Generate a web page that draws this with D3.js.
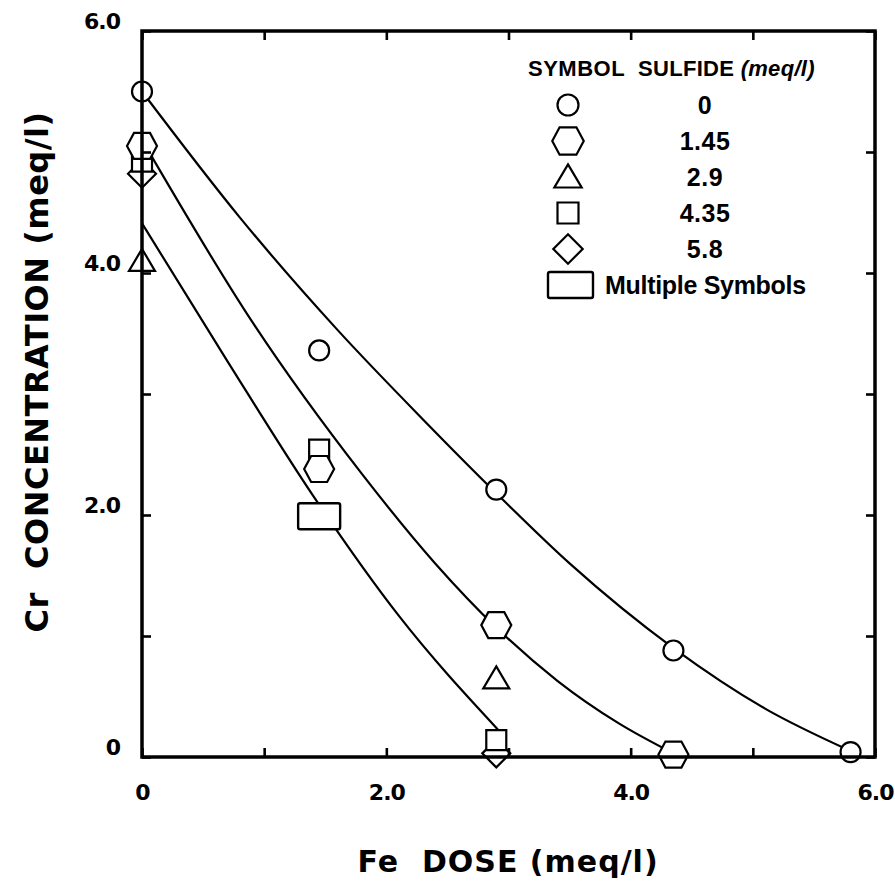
<!DOCTYPE html>
<html>

<head>
  <title>Cr concentration vs Fe dose</title>
  <script src="https://d3js.org/d3.v7.min.js"></script>
  <style>
    body {
      margin: 0;
      background: #ffffff;
    }

    .tick-label {
      font-family: "DejaVu Sans", sans-serif;
      font-weight: bold;
      font-size: 22px;
      letter-spacing: -1px;
      fill: #000;
    }

    .axis-title {
      font-family: "DejaVu Sans", sans-serif;
      font-weight: bold;
      fill: #000;
      white-space: pre;
    }

    .legend-text {
      font-family: "Liberation Sans", Arial, sans-serif;
      font-weight: bold;
      fill: #000;
      white-space: pre;
    }
  </style>
</head>

<body>
  <svg id="chart"></svg>

  <script>
    // Data: Fe dose (meq/l) vs Cr concentration (meq/l)
    const sulfideLabels = ["0", "1.45", "2.9", "4.35", "5.8"];
    const symbolTypes = ["circle", "hexagon", "triangle", "square", "diamond"];

    const crSulfide0 = [[0, 5.50], [1.45, 3.36], [2.9, 2.21], [4.35, 0.88], [5.8, 0.04]];
    const crSulfide145 = [[0, 5.05], [1.45, 2.38], [2.9, 1.09], [4.35, 0.02]];
    const crSulfide29 = [[0, 4.10], [2.9, 0.65]];
    const crSulfide435 = [[0, 4.92], [1.45, 2.54], [2.9, 0.14]];
    const crSulfide58 = [[0, 4.82], [2.9, 0.03]];
    // points where several symbols coincide
    const multiplePoints = [[1.45, 1.99]];

    // fitted curves
    const fitCurve1 = [[0, 5.50], [0.8, 4.46], [1.6, 3.53], [2.3, 2.79], [2.9, 2.18], [3.5, 1.60],
      [4.35, 0.90], [5.1, 0.40], [5.8, 0.05]];
    const fitCurve2 = [[0, 5.10], [0.9, 3.60], [1.8, 2.34], [2.4, 1.60], [2.9, 1.07], [3.4, 0.63],
      [3.9, 0.28], [4.35, 0.03]];
    const fitCurve3 = [[0, 4.41], [0.7, 3.27], [1.4, 2.16], [2.1, 1.17], [2.92, 0.22]];

    const xTicks = [0, 1, 2, 3, 4, 5, 6];
    const yTicks = [0, 1, 2, 3, 4, 5, 6];
    const labelledTicks = { 0: "0", 2: "2.0", 4: "4.0", 6: "6.0" };

    // Layout
    const width = 895;
    const height = 891;
    const plot = { left: 142, right: 875, top: 31, bottom: 757 };

    const svg = d3.select("#chart").attr("width", width).attr("height", height);

    const x = d3.scaleLinear().domain([0, 6]).range([plot.left, plot.right]);
    const y = d3.scaleLinear().domain([0, 6]).range([plot.bottom, plot.top]);

    // symbol outlines, centred on 0,0
    function shapePath(type, s) {
      const p = d3.path();
      if (type === "circle") {
        p.arc(0, 0, 10 * s, 0, 2 * Math.PI);
      } else if (type === "hexagon") {
        const pts = [[-15, 0], [-8, -13], [8, -13], [15, 0], [8, 13], [-8, 13]];
        pts.forEach((q, i) => (i ? p.lineTo(q[0] * s, q[1] * s) : p.moveTo(q[0] * s, q[1] * s)));
        p.closePath();
      } else if (type === "triangle") {
        p.moveTo(0, -12 * s);
        p.lineTo(13 * s, 10 * s);
        p.lineTo(-13 * s, 10 * s);
        p.closePath();
      } else if (type === "square") {
        p.rect(-10 * s, -10 * s, 20 * s, 20 * s);
      } else if (type === "diamond") {
        p.moveTo(0, -14 * s);
        p.lineTo(14 * s, 0);
        p.lineTo(0, 14 * s);
        p.lineTo(-14 * s, 0);
        p.closePath();
      }
      return p.toString();
    }

    // Curves
    const line = d3
      .line()
      .x((d) => x(d[0]))
      .y((d) => y(d[1]))
      .curve(d3.curveMonotoneX);

    svg
      .append("g")
      .selectAll("path")
      .data([fitCurve1, fitCurve2, fitCurve3])
      .join("path")
      .attr("d", line)
      .attr("fill", "none")
      .attr("stroke", "#000")
      .attr("stroke-width", 2.2);

    // Symbols (drawn back to front)
    const series = [
      { type: "diamond", values: crSulfide58 },
      { type: "square", values: crSulfide435 },
      { type: "triangle", values: crSulfide29 },
      { type: "hexagon", values: crSulfide145 },
      { type: "circle", values: crSulfide0 },
    ];

    series.forEach((s) => {
      svg
        .append("g")
        .selectAll("path")
        .data(s.values)
        .join("path")
        .attr("transform", (d) => `translate(${x(d[0])},${y(d[1])})`)
        .attr("d", shapePath(s.type, 1))
        .attr("fill", "#fff")
        .attr("stroke", "#000")
        .attr("stroke-width", 2.2);
    });

    svg
      .append("g")
      .selectAll("rect")
      .data(multiplePoints)
      .join("rect")
      .attr("x", (d) => x(d[0]) - 21)
      .attr("y", (d) => y(d[1]) - 13)
      .attr("width", 42)
      .attr("height", 26)
      .attr("rx", 2)
      .attr("fill", "#fff")
      .attr("stroke", "#000")
      .attr("stroke-width", 2.4);

    // Axes with inward ticks on all four sides
    function label(d) {
      return labelledTicks[d] !== undefined ? labelledTicks[d] : "";
    }

    const bottomAxis = svg
      .append("g")
      .attr("transform", `translate(0,${plot.bottom})`)
      .call(d3.axisBottom(x).tickValues(xTicks).tickSizeInner(-9).tickSizeOuter(0).tickPadding(27).tickFormat(label));

    const topAxis = svg
      .append("g")
      .attr("transform", `translate(0,${plot.top})`)
      .call(d3.axisTop(x).tickValues(xTicks).tickSizeInner(-9).tickSizeOuter(0).tickFormat(""));

    const leftAxis = svg
      .append("g")
      .attr("transform", `translate(${plot.left},0)`)
      .call(d3.axisLeft(y).tickValues(yTicks).tickSizeInner(-9).tickSizeOuter(0).tickPadding(22).tickFormat(label));

    const rightAxis = svg
      .append("g")
      .attr("transform", `translate(${plot.right},0)`)
      .call(d3.axisRight(y).tickValues(yTicks).tickSizeInner(-9).tickSizeOuter(0).tickFormat(""));

    [bottomAxis, topAxis, leftAxis, rightAxis].forEach((g) => {
      g.select(".domain").remove();
      g.selectAll(".tick line").attr("stroke", "#000").attr("stroke-width", 2.6);
      g.selectAll(".tick text").attr("class", "tick-label").attr("font-family", null).attr("font-size", null);
    });
    leftAxis.selectAll(".tick text").attr("dy", "-0.1em");

    // Frame
    svg
      .append("rect")
      .attr("x", plot.left)
      .attr("y", plot.top)
      .attr("width", plot.right - plot.left)
      .attr("height", plot.bottom - plot.top)
      .attr("fill", "none")
      .attr("stroke", "#000")
      .attr("stroke-width", 3.5);

    // Axis titles
    svg
      .append("text")
      .attr("class", "axis-title")
      .attr("x", 508)
      .attr("y", 872)
      .attr("text-anchor", "middle")
      .style("font-size", "30px")
      .style("letter-spacing", "1px")
      .text("Fe  DOSE (meq/l)");

    svg
      .append("text")
      .attr("class", "axis-title")
      .attr("transform", "translate(48,372) rotate(-90)")
      .attr("text-anchor", "middle")
      .style("font-size", "32px")
      .style("letter-spacing", "0.5px")
      .text("Cr  CONCENTRATION (meq/l)");

    // Legend
    const legend = svg.append("g");

    legend
      .append("text")
      .attr("class", "legend-text")
      .attr("x", 528)
      .attr("y", 76)
      .style("font-size", "22px")
      .style("letter-spacing", "0.5px")
      .text("SYMBOL");

    const header2 = legend
      .append("text")
      .attr("class", "legend-text")
      .attr("x", 638)
      .attr("y", 76)
      .style("font-size", "22px")
      .style("letter-spacing", "0.3px");
    header2.append("tspan").text("SULFIDE ");
    header2.append("tspan").style("font-style", "italic").text("(meq/l)");

    const rowY = d3.scalePoint().domain(d3.range(6)).range([105, 285]);

    const rows = legend
      .selectAll(".legend-row")
      .data(symbolTypes)
      .join("g")
      .attr("class", "legend-row")
      .attr("transform", (d, i) => `translate(0,${rowY(i)})`);

    rows
      .append("path")
      .attr("transform", "translate(568,0)")
      .attr("d", (d) => shapePath(d, 1.05))
      .attr("fill", "#fff")
      .attr("stroke", "#000")
      .attr("stroke-width", 2.2);

    rows
      .append("text")
      .attr("class", "legend-text")
      .attr("x", 705)
      .attr("y", 9)
      .attr("text-anchor", "middle")
      .style("font-size", "25px")
      .style("letter-spacing", "0.5px")
      .text((d, i) => sulfideLabels[i]);

    const multiRow = legend.append("g").attr("transform", `translate(0,${rowY(5)})`);
    multiRow
      .append("rect")
      .attr("x", 548)
      .attr("y", -13)
      .attr("width", 45)
      .attr("height", 26)
      .attr("rx", 2)
      .attr("fill", "#fff")
      .attr("stroke", "#000")
      .attr("stroke-width", 2.4);
    multiRow
      .append("text")
      .attr("class", "legend-text")
      .attr("x", 605)
      .attr("y", 9)
      .style("font-size", "25px")
      .style("letter-spacing", "-0.3px")
      .text("Multiple Symbols");
  </script>
</body>

</html>
